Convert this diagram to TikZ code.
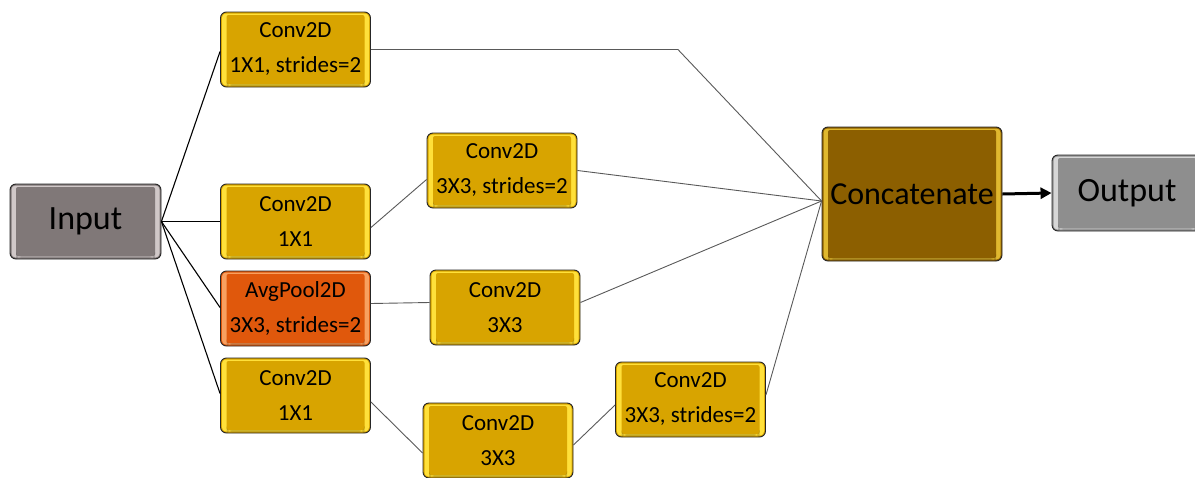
\documentclass[tikz,border=0pt]{standalone}
\usepackage{fontspec}
\setmainfont{Carlito}
\usetikzlibrary{arrows.meta}
\definecolor{goldb}{HTML}{D8A400}
\definecolor{goldl}{HTML}{FFE03A}
\definecolor{orab}{HTML}{E0580C}
\definecolor{oral}{HTML}{F8A060}
\definecolor{catb}{HTML}{8C5F00}
\definecolor{catl}{HTML}{E0B82E}
\definecolor{inb}{HTML}{807878}
\definecolor{inl}{HTML}{D0C8C8}
\definecolor{outb}{HTML}{8E8E8E}
\definecolor{outl}{HTML}{D6D6D6}
\colorlet{bbbase}{goldb}
\colorlet{bbhl}{goldl}
\tikzset{
  bcols/.code 2 args={\colorlet{bbbase}{#1}\colorlet{bbhl}{#2}},
  bbox/.style={draw=black!85, line width=0.9pt, rounded corners=6pt, fill=bbbase,
    minimum width=150pt, minimum height=75pt, inner sep=0pt, align=center,
    font=\fontsize{23}{35}\selectfont,
    path picture={
      \fill[bbhl, rounded corners=4pt] ([shift={(1.5pt,-1.5pt)}]path picture bounding box.north west) rectangle ([shift={(-1.5pt,1.5pt)}]path picture bounding box.south east);
      \fill[bbbase, rounded corners=2pt] ([shift={(6pt,-3pt)}]path picture bounding box.north west) rectangle ([shift={(-6pt,3pt)}]path picture bounding box.south east);
      \fill[black, opacity=0.18] ([shift={(6pt,3pt)}]path picture bounding box.south west) rectangle ([shift={(-6pt,1pt)}]path picture bounding box.south east);
    }},
  two/.style={execute at begin node={\rule{0pt}{26pt}}},
  conv/.style={bcols={goldb}{goldl}, bbox, two},
  big/.style={font=\fontsize{34}{40}\selectfont},
  inline/.style={draw=black, line width=1.1pt},
  gline/.style={draw=black!65, line width=0.9pt},
}
\begin{document}
\begin{tikzpicture}[x=1pt,y=-1pt]
\useasboundingbox (0,0) rectangle (1195,477);
\node[bcols={inb}{inl}, bbox, big, minimum width=151pt] (in) at (85.5,221.5) {Input};
\node[conv] (A) at (295.5,49.5) {Conv2D\\1X1, strides=2};
\node[conv] (B) at (295.5,221.5) {Conv2D\\1X1};
\node[bcols={orab}{oral}, bbox, two] (P) at (295.5,308.5) {AvgPool2D\\3X3, strides=2};
\node[conv] (D) at (295.5,395.5) {Conv2D\\1X1};
\node[conv] (E) at (502,170.5) {Conv2D\\3X3, strides=2};
\node[conv] (F) at (505,307.5) {Conv2D\\3X3};
\node[conv] (G) at (498,440.5) {Conv2D\\3X3};
\node[conv] (H) at (690.5,399.5) {Conv2D\\3X3, strides=2};
\node[bcols={catb}{catl}, bbox, font=\fontsize{32}{38}\selectfont, minimum width=180pt, minimum height=134pt] (cat) at (912,194) {Concatenate};
\node[bcols={outb}{outl}, bbox, big, minimum width=150pt, minimum height=76pt] (out) at (1127,193) {Output};
\coordinate (cj) at ([yshift=-7pt]cat.west);
% input connectors
\draw[inline] (in.east) -- ([yshift=-2pt]A.west);
\draw[inline] (in.east) -- (B.west);
\draw[inline] (in.east) -- ([yshift=1pt]P.west);
\draw[inline] (in.east) -- ([yshift=2pt]D.west);
% branches
\draw[gline] (A.east) -- ++(307,0) -- (cj);
\draw[gline] ([yshift=-6pt]B.east) -- ([yshift=-9pt]E.west);
\draw[gline] (E.east) -- (cj);
\draw[gline] ([yshift=5pt]P.east) -- ([yshift=5pt]F.west);
\draw[gline] ([yshift=5pt]F.east) -- (cj);
\draw[gline] ([yshift=-6.5pt]D.east) -- ([yshift=-12.5pt]G.west);
\draw[gline] ([yshift=-4.5pt]G.east) -- ([yshift=-5.5pt]H.west);
\draw[gline] ([yshift=4.5pt]H.east) -- (cj);
\draw[line width=3pt, -{Triangle[length=11pt,width=11pt]}] (cat.east) -- (out.west);
\end{tikzpicture}
\end{document}
